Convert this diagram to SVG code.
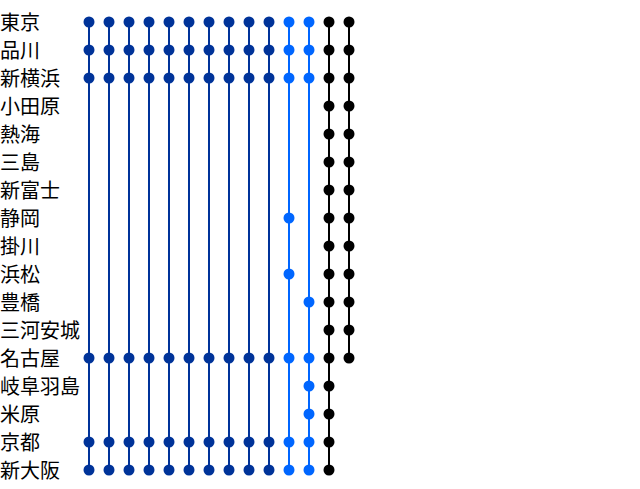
<svg xmlns="http://www.w3.org/2000/svg" width="640" height="489" viewBox="0 0 640 489">
<style>
text{font-family:"Noto Sans CJK JP","Noto Sans CJK SC",sans-serif;font-size:20px;fill:#000}
.l{stroke-width:2;fill:none}
.d{stroke:#003399}.b{stroke:#0066ff}.k{stroke:#000}
.dd{fill:#003399}.bd{fill:#0066ff}.kd{fill:#000}
</style>
<rect width="640" height="489" fill="#fff"/>
<g id="labels">
<text x="0" y="30">東京</text>
<text x="0" y="58">品川</text>
<text x="0" y="86">新横浜</text>
<text x="0" y="114">小田原</text>
<text x="0" y="142">熱海</text>
<text x="0" y="170">三島</text>
<text x="0" y="198">新富士</text>
<text x="0" y="226">静岡</text>
<text x="0" y="254">掛川</text>
<text x="0" y="282">浜松</text>
<text x="0" y="310">豊橋</text>
<text x="0" y="338">三河安城</text>
<text x="0" y="366">名古屋</text>
<text x="0" y="394">岐阜羽島</text>
<text x="0" y="422">米原</text>
<text x="0" y="450">京都</text>
<text x="0" y="478">新大阪</text>
</g>
<g id="connectors">
<path class="l d" d="M89 22V470M109 22V470M129 22V470M149 22V470M169 22V470M189 22V470M209 22V470M229 22V470M249 22V470M269 22V470"/>
<path class="l b" d="M289 22V470M309 22V470"/>
<path class="l k" d="M329 22V470M349 22V358"/>
</g>
<defs>
<g id="dk"><circle cx="0" cy="22" r="5.5"/><circle cx="0" cy="50" r="5.5"/><circle cx="0" cy="78" r="5.5"/><circle cx="0" cy="358" r="5.5"/><circle cx="0" cy="442" r="5.5"/><circle cx="0" cy="470" r="5.5"/></g>
</defs>
<g id="col1" class="dd"><use href="#dk" x="89"/></g>
<g id="col2" class="dd"><use href="#dk" x="109"/></g>
<g id="col3" class="dd"><use href="#dk" x="129"/></g>
<g id="col4" class="dd"><use href="#dk" x="149"/></g>
<g id="col5" class="dd"><use href="#dk" x="169"/></g>
<g id="col6" class="dd"><use href="#dk" x="189"/></g>
<g id="col7" class="dd"><use href="#dk" x="209"/></g>
<g id="col8" class="dd"><use href="#dk" x="229"/></g>
<g id="col9" class="dd"><use href="#dk" x="249"/></g>
<g id="col10" class="dd"><use href="#dk" x="269"/></g>
<g id="col11" class="bd">
<circle cx="289" cy="22" r="5.5"/><circle cx="289" cy="50" r="5.5"/><circle cx="289" cy="78" r="5.5"/><circle cx="289" cy="218" r="5.5"/><circle cx="289" cy="274" r="5.5"/><circle cx="289" cy="358" r="5.5"/><circle cx="289" cy="442" r="5.5"/><circle cx="289" cy="470" r="5.5"/>
</g>
<g id="col12" class="bd">
<circle cx="309" cy="22" r="5.5"/><circle cx="309" cy="50" r="5.5"/><circle cx="309" cy="78" r="5.5"/><circle cx="309" cy="302" r="5.5"/><circle cx="309" cy="358" r="5.5"/><circle cx="309" cy="386" r="5.5"/><circle cx="309" cy="414" r="5.5"/><circle cx="309" cy="442" r="5.5"/><circle cx="309" cy="470" r="5.5"/>
</g>
<g id="col13" class="kd">
<circle cx="329" cy="22" r="5.5"/><circle cx="329" cy="50" r="5.5"/><circle cx="329" cy="78" r="5.5"/><circle cx="329" cy="106" r="5.5"/><circle cx="329" cy="134" r="5.5"/><circle cx="329" cy="162" r="5.5"/><circle cx="329" cy="190" r="5.5"/><circle cx="329" cy="218" r="5.5"/><circle cx="329" cy="246" r="5.5"/><circle cx="329" cy="274" r="5.5"/><circle cx="329" cy="302" r="5.5"/><circle cx="329" cy="330" r="5.5"/><circle cx="329" cy="358" r="5.5"/><circle cx="329" cy="386" r="5.5"/><circle cx="329" cy="414" r="5.5"/><circle cx="329" cy="442" r="5.5"/><circle cx="329" cy="470" r="5.5"/>
</g>
<g id="col14" class="kd">
<circle cx="349" cy="22" r="5.5"/><circle cx="349" cy="50" r="5.5"/><circle cx="349" cy="78" r="5.5"/><circle cx="349" cy="106" r="5.5"/><circle cx="349" cy="134" r="5.5"/><circle cx="349" cy="162" r="5.5"/><circle cx="349" cy="190" r="5.5"/><circle cx="349" cy="218" r="5.5"/><circle cx="349" cy="246" r="5.5"/><circle cx="349" cy="274" r="5.5"/><circle cx="349" cy="302" r="5.5"/><circle cx="349" cy="330" r="5.5"/><circle cx="349" cy="358" r="5.5"/>
</g>
</svg>
